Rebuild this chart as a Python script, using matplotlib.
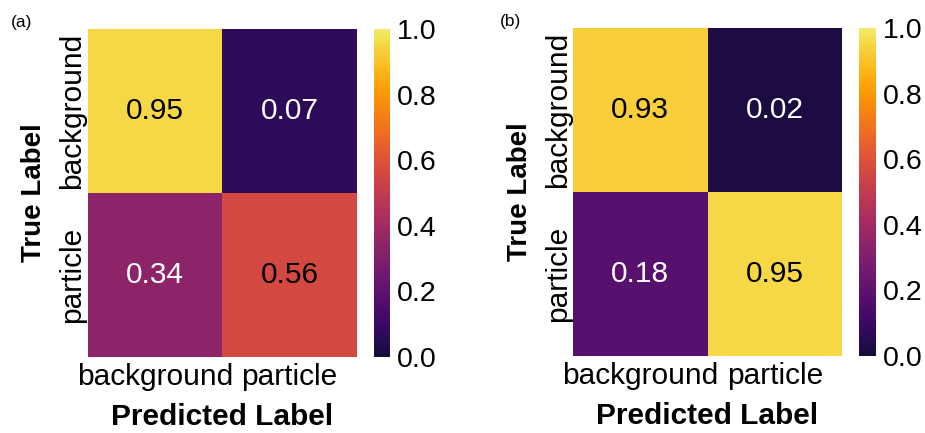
import numpy as np
import matplotlib
matplotlib.use('Agg')
import matplotlib.pyplot as plt
from matplotlib import colors

plt.rcParams['font.family'] = ['Liberation Sans', 'DejaVu Sans']

# Data
class_names = ['background', 'particle']
cm_a = [[0.95, 0.07],
        [0.34, 0.56]]
cm_b = [[0.93, 0.02],
        [0.18, 0.95]]
cbar_ticks = [0.0, 0.2, 0.4, 0.6, 0.8, 1.0]
panel_tags = ['(a)', '(b)']

fig = plt.figure(figsize=(9.25, 4.33), dpi=100)
norm = colors.Normalize(vmin=0, vmax=1)
# the reference palette looks like inferno without its darkest/palest ends
cmap = colors.ListedColormap(plt.get_cmap('inferno')(np.linspace(0.1, 0.94, 256)))

# axes positions (figure fractions)
layouts = [
    ([0.0951, 0.1755, 0.2908, 0.7575], [0.4043, 0.1755, 0.0173, 0.7575], (0.012, 0.948)),
    ([0.6195, 0.1778, 0.2908, 0.7575], [0.9286, 0.1778, 0.0184, 0.7575], (0.540, 0.950)),
]

for cm, tag, (hm_pos, cb_pos, tag_pos) in zip([cm_a, cm_b], panel_tags, layouts):
    data = np.array(cm)
    ax = fig.add_axes(hm_pos)
    mesh = ax.pcolormesh(data, cmap=cmap, norm=norm)
    ax.set_xlim(0, data.shape[1])
    ax.set_ylim(data.shape[0], 0)
    for i in range(data.shape[0]):
        for j in range(data.shape[1]):
            v = data[i, j]
            ax.text(j + 0.5, i + 0.5, f'{v:.2f}', ha='center', va='center',
                    fontsize=21.5, color='black' if v > 0.5 else 'white')
    ax.set_xticks(np.arange(data.shape[1]) + 0.5)
    ax.set_xticklabels(class_names, fontsize=21.5)
    ax.set_yticks(np.arange(data.shape[0]) + 0.5)
    ax.set_yticklabels(class_names, fontsize=21.5, rotation=90, va='center')
    ax.tick_params(axis='x', length=0, pad=4)
    ax.tick_params(axis='y', length=0, pad=1)
    for s in ax.spines.values():
        s.set_visible(False)
    ax.set_xlabel('Predicted Label', fontsize=21.5, fontweight='bold', labelpad=9)
    ax.set_ylabel('True Label', fontsize=20, fontweight='bold', labelpad=8)

    cax = fig.add_axes(cb_pos)
    cb = fig.colorbar(mesh, cax=cax, ticks=cbar_ticks)
    cb.outline.set_visible(False)
    cb.ax.tick_params(length=0, labelsize=20.5, pad=5)
    cb.ax.set_yticklabels([f'{t:.1f}' for t in cbar_ticks])

    fig.text(tag_pos[0], tag_pos[1], tag, fontsize=12.5, va='center', ha='left')

fig.savefig('out.png', dpi=100, facecolor='white')
